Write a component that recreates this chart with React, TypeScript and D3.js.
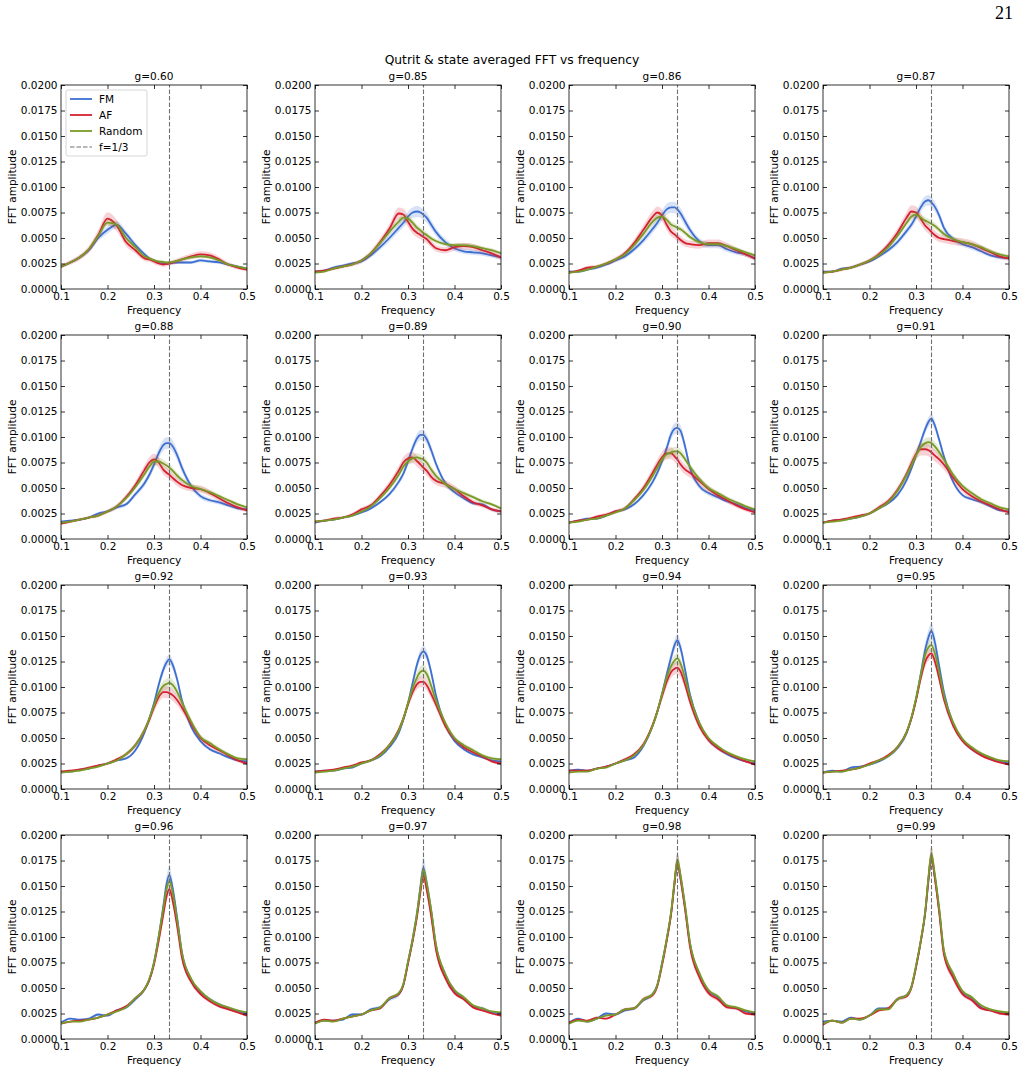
import React, { useEffect, useRef } from 'react';
import * as d3 from 'd3';

// frequency grid shared by every panel
const FREQS = [0.10, 0.12, 0.14, 0.16, 0.18, 0.20, 0.22, 0.24, 0.26, 0.28, 0.29, 0.30, 0.31, 0.32, 0.327, 0.333, 0.34, 0.35, 0.36, 0.38, 0.40, 0.42, 0.44, 0.46, 0.48, 0.50];

const G_LABELS = ['0.60', '0.85', '0.86', '0.87', '0.88', '0.89', '0.90', '0.91', '0.92', '0.93', '0.94', '0.95', '0.96', '0.97', '0.98', '0.99'];

// FFT amplitudes, in units of 1e-3
const FM = [
  [2.2, 2.6, 3.1, 3.8, 5.0, 5.8, 6.3, 5.4, 4.3, 3.4, 3.0, 2.8, 2.6, 2.5, 2.5, 2.5, 2.55, 2.6, 2.6, 2.6, 2.8, 2.7, 2.6, 2.4, 2.2, 2.0],
  [1.7, 1.8, 2.1, 2.3, 2.5, 2.7, 3.3, 4.1, 5.0, 6.0, 6.5, 7.1, 7.5, 7.6, 7.5, 7.3, 7.0, 6.3, 5.6, 4.6, 4.0, 3.7, 3.6, 3.5, 3.3, 3.1],
  [1.7, 1.7, 1.9, 2.1, 2.4, 2.8, 3.2, 3.9, 4.8, 5.9, 6.5, 7.2, 7.8, 8.0, 8.0, 7.8, 7.4, 6.6, 5.8, 4.7, 4.3, 4.3, 3.9, 3.6, 3.4, 3.0],
  [1.7, 1.7, 2.0, 2.1, 2.4, 2.7, 3.2, 3.8, 4.6, 5.7, 6.3, 7.1, 8.0, 8.6, 8.7, 8.5, 8.1, 7.2, 6.0, 4.9, 4.4, 4.1, 3.7, 3.3, 3.1, 3.0],
  [1.7, 1.8, 1.9, 2.1, 2.5, 2.7, 3.1, 3.4, 4.4, 5.5, 6.3, 7.3, 8.4, 9.2, 9.4, 9.4, 9.1, 8.2, 7.0, 5.2, 4.2, 3.8, 3.6, 3.3, 3.0, 2.9],
  [1.6, 1.8, 1.9, 2.1, 2.3, 2.6, 3.0, 3.6, 4.4, 5.6, 6.4, 7.6, 8.9, 9.9, 10.2, 10.2, 9.8, 8.7, 7.4, 5.5, 4.6, 4.0, 3.5, 3.4, 2.9, 2.7],
  [1.6, 1.8, 2.0, 2.0, 2.3, 2.7, 2.9, 3.4, 4.3, 5.6, 6.5, 7.6, 8.9, 10.3, 10.8, 10.9, 10.6, 9.0, 7.0, 5.2, 4.5, 4.1, 3.7, 3.4, 3.0, 2.8],
  [1.6, 1.8, 1.9, 2.0, 2.2, 2.5, 3.0, 3.5, 4.3, 5.8, 6.9, 8.2, 9.5, 10.8, 11.5, 11.8, 11.2, 9.7, 8.1, 5.6, 4.3, 3.9, 3.6, 3.2, 2.8, 2.7],
  [1.7, 1.7, 1.9, 2.0, 2.3, 2.5, 2.8, 3.0, 3.8, 5.6, 6.9, 8.4, 10.2, 11.7, 12.4, 12.7, 12.2, 10.7, 8.7, 6.1, 4.7, 3.9, 3.5, 3.1, 2.8, 2.7],
  [1.7, 1.8, 1.8, 2.0, 2.1, 2.5, 2.8, 3.2, 4.1, 5.5, 6.8, 8.4, 10.4, 12.3, 13.2, 13.5, 13.1, 11.4, 9.2, 6.3, 4.7, 3.9, 3.4, 3.1, 2.8, 2.7],
  [1.8, 1.9, 1.8, 2.0, 2.2, 2.5, 2.8, 3.1, 4.2, 6.2, 7.6, 9.3, 11.2, 13.0, 14.1, 14.6, 13.8, 11.6, 9.3, 6.5, 4.8, 4.0, 3.4, 3.0, 2.7, 2.5],
  [1.6, 1.8, 1.7, 2.1, 2.2, 2.4, 2.7, 3.2, 4.0, 5.5, 6.9, 8.8, 11.2, 13.7, 14.9, 15.5, 14.5, 12.0, 9.5, 6.4, 4.8, 3.9, 3.4, 3.0, 2.7, 2.5],
  [1.6, 2.0, 1.9, 2.0, 2.4, 2.3, 2.8, 3.1, 3.9, 4.9, 5.8, 7.5, 10.0, 13.0, 15.2, 16.1, 14.8, 11.8, 8.5, 5.8, 4.6, 3.9, 3.4, 3.0, 2.7, 2.5],
  [1.6, 1.8, 1.8, 1.9, 2.4, 2.4, 2.9, 3.1, 3.9, 4.4, 5.3, 7.5, 9.8, 12.5, 15.0, 16.8, 15.3, 12.5, 9.2, 6.3, 4.7, 4.0, 3.2, 3.0, 2.6, 2.5],
  [1.6, 2.0, 1.7, 2.0, 2.5, 2.4, 2.8, 3.0, 3.8, 4.4, 5.3, 7.4, 9.7, 12.5, 15.3, 17.3, 15.8, 12.8, 9.4, 6.4, 4.7, 4.1, 3.2, 3.0, 2.7, 2.5],
  [1.7, 1.8, 1.7, 2.1, 1.9, 2.3, 3.0, 3.0, 3.9, 4.3, 5.1, 7.1, 9.5, 12.4, 15.6, 17.8, 16.0, 12.6, 8.6, 6.3, 4.6, 4.0, 3.1, 2.8, 2.6, 2.5],
];

const AF = [
  [2.2, 2.6, 3.1, 3.9, 5.3, 6.9, 6.2, 4.6, 3.8, 3.0, 2.9, 2.7, 2.5, 2.4, 2.45, 2.5, 2.6, 2.75, 2.9, 3.2, 3.4, 3.3, 2.9, 2.4, 2.1, 1.9],
  [1.7, 1.8, 2.0, 2.2, 2.4, 2.8, 3.5, 4.6, 5.9, 7.4, 7.3, 6.6, 5.9, 5.5, 5.3, 5.1, 4.9, 4.4, 4.0, 3.8, 4.1, 4.2, 4.1, 3.8, 3.5, 3.1],
  [1.6, 1.8, 2.1, 2.2, 2.5, 2.9, 3.5, 4.5, 5.8, 7.1, 7.5, 7.2, 6.3, 5.6, 5.35, 5.1, 4.8, 4.5, 4.4, 4.3, 4.5, 4.5, 4.2, 3.8, 3.4, 3.0],
  [1.6, 1.7, 1.9, 2.1, 2.4, 2.8, 3.4, 4.3, 5.5, 7.0, 7.6, 7.5, 6.9, 6.2, 5.9, 5.6, 5.3, 5.0, 4.9, 4.7, 4.6, 4.4, 4.0, 3.6, 3.2, 3.0],
  [1.5, 1.7, 1.9, 2.1, 2.3, 2.7, 3.2, 4.1, 5.3, 6.8, 7.5, 7.8, 7.5, 6.8, 6.5, 6.3, 6.0, 5.6, 5.3, 5.0, 4.9, 4.5, 4.0, 3.5, 3.1, 2.8],
  [1.7, 1.8, 2.0, 2.1, 2.4, 2.9, 3.3, 4.2, 5.3, 6.7, 7.5, 7.9, 8.0, 7.6, 7.3, 7.0, 6.7, 6.1, 5.7, 5.4, 4.9, 4.2, 3.6, 3.3, 2.9, 2.7],
  [1.6, 1.8, 1.9, 2.2, 2.4, 2.7, 3.0, 3.9, 5.0, 6.5, 7.3, 8.0, 8.4, 8.4, 8.1, 7.8, 7.3, 6.8, 6.5, 5.7, 4.9, 4.3, 3.8, 3.3, 2.9, 2.6],
  [1.6, 1.8, 1.9, 2.1, 2.3, 2.5, 3.1, 3.7, 4.8, 6.4, 7.4, 8.3, 8.8, 8.8, 8.7, 8.5, 8.2, 7.8, 7.3, 6.0, 4.9, 4.2, 3.7, 3.3, 2.9, 2.6],
  [1.7, 1.8, 1.9, 2.1, 2.3, 2.5, 2.9, 3.4, 4.3, 5.8, 6.8, 8.0, 9.0, 9.5, 9.5, 9.4, 9.2, 8.7, 8.0, 6.4, 5.0, 4.3, 3.8, 3.3, 2.8, 2.5],
  [1.7, 1.8, 1.9, 2.1, 2.3, 2.6, 2.8, 3.4, 4.3, 5.8, 6.9, 8.3, 9.5, 10.3, 10.5, 10.5, 10.2, 9.3, 8.3, 6.2, 4.9, 4.1, 3.6, 3.2, 2.7, 2.5],
  [1.8, 1.8, 1.8, 2.0, 2.2, 2.5, 2.9, 3.4, 4.4, 6.3, 7.6, 9.1, 10.5, 11.5, 11.8, 11.9, 11.5, 10.2, 8.6, 6.2, 4.8, 4.0, 3.5, 3.1, 2.7, 2.4],
  [1.6, 1.7, 1.8, 1.9, 2.1, 2.5, 2.8, 3.3, 4.1, 5.6, 6.9, 8.7, 10.8, 12.5, 13.1, 13.3, 12.6, 10.8, 8.8, 6.2, 4.7, 3.9, 3.3, 2.9, 2.6, 2.4],
  [1.5, 1.7, 1.8, 1.9, 2.1, 2.4, 2.8, 3.2, 4.0, 4.9, 5.8, 7.3, 9.6, 12.2, 14.0, 14.7, 13.6, 11.0, 8.0, 5.6, 4.4, 3.7, 3.2, 2.9, 2.6, 2.3],
  [1.6, 1.9, 1.8, 2.0, 2.2, 2.4, 2.8, 3.0, 4.0, 4.4, 5.3, 7.4, 9.6, 12.2, 14.5, 16.1, 14.7, 12.0, 8.8, 6.0, 4.5, 3.9, 3.1, 2.8, 2.5, 2.3],
  [1.6, 1.9, 1.8, 2.1, 2.0, 2.4, 2.9, 3.0, 3.9, 4.3, 5.2, 7.2, 9.6, 12.4, 15.3, 17.4, 15.7, 12.6, 9.1, 6.1, 4.5, 3.9, 3.1, 3.0, 2.5, 2.4],
  [1.4, 1.8, 1.6, 2.0, 2.0, 2.3, 2.8, 3.0, 3.9, 4.2, 5.0, 7.0, 9.5, 12.5, 15.8, 18.0, 16.0, 12.4, 8.3, 6.0, 4.4, 3.8, 3.0, 2.8, 2.5, 2.4],
];

const RANDOM = [
  [2.2, 2.6, 3.1, 3.9, 5.2, 6.5, 6.3, 5.0, 4.1, 3.2, 3.0, 2.8, 2.7, 2.65, 2.6, 2.6, 2.65, 2.75, 2.9, 3.1, 3.2, 3.1, 2.8, 2.4, 2.2, 2.0],
  [1.6, 1.7, 2.0, 2.2, 2.4, 2.8, 3.5, 4.5, 5.6, 6.6, 7.0, 6.9, 6.5, 6.0, 5.75, 5.5, 5.3, 4.95, 4.7, 4.4, 4.3, 4.3, 4.2, 4.0, 3.8, 3.5],
  [1.6, 1.7, 1.9, 2.2, 2.5, 2.9, 3.4, 4.3, 5.4, 6.6, 7.0, 7.1, 6.8, 6.3, 6.15, 6.0, 5.85, 5.5, 5.1, 4.6, 4.4, 4.4, 4.2, 3.9, 3.6, 3.3],
  [1.6, 1.7, 1.9, 2.1, 2.4, 2.8, 3.3, 4.1, 5.2, 6.5, 7.1, 7.3, 7.0, 6.7, 6.55, 6.4, 6.2, 5.8, 5.4, 4.9, 4.6, 4.4, 4.1, 3.7, 3.4, 3.2],
  [1.6, 1.7, 1.9, 2.1, 2.3, 2.7, 3.2, 4.0, 5.1, 6.4, 7.1, 7.6, 7.6, 7.4, 7.2, 7.0, 6.7, 6.2, 5.8, 5.2, 4.9, 4.6, 4.2, 3.8, 3.4, 3.1],
  [1.7, 1.8, 1.9, 2.1, 2.3, 2.7, 3.2, 4.0, 5.0, 6.3, 7.1, 7.6, 7.9, 8.0, 7.9, 7.8, 7.5, 6.8, 6.2, 5.4, 4.9, 4.5, 4.1, 3.7, 3.4, 3.0],
  [1.6, 1.7, 1.9, 2.0, 2.3, 2.6, 3.0, 3.8, 4.8, 6.2, 7.0, 7.8, 8.3, 8.5, 8.6, 8.6, 8.4, 7.8, 7.1, 5.9, 5.0, 4.5, 4.0, 3.6, 3.2, 2.9],
  [1.6, 1.7, 1.8, 2.0, 2.2, 2.5, 3.0, 3.6, 4.7, 6.3, 7.2, 8.2, 9.0, 9.4, 9.5, 9.4, 9.1, 8.5, 7.8, 6.3, 5.2, 4.5, 3.9, 3.5, 3.1, 2.9],
  [1.6, 1.7, 1.8, 2.0, 2.2, 2.5, 2.8, 3.4, 4.3, 5.8, 6.9, 8.2, 9.4, 10.1, 10.3, 10.4, 10.2, 9.5, 8.5, 6.6, 5.1, 4.5, 3.9, 3.4, 3.0, 2.9],
  [1.6, 1.7, 1.8, 2.0, 2.2, 2.5, 2.8, 3.3, 4.3, 5.7, 6.9, 8.4, 9.9, 11.0, 11.5, 11.6, 11.3, 10.1, 8.7, 6.5, 5.0, 4.3, 3.8, 3.3, 3.0, 2.9],
  [1.6, 1.7, 1.7, 2.0, 2.1, 2.5, 2.8, 3.3, 4.3, 6.2, 7.6, 9.3, 10.9, 12.1, 12.6, 12.8, 12.3, 10.8, 9.1, 6.5, 5.0, 4.2, 3.6, 3.2, 2.9, 2.7],
  [1.6, 1.7, 1.7, 1.9, 2.1, 2.4, 2.8, 3.2, 4.1, 5.6, 7.0, 8.9, 11.1, 13.2, 13.9, 14.1, 13.4, 11.4, 9.2, 6.5, 4.9, 4.1, 3.5, 3.1, 2.8, 2.7],
  [1.5, 1.7, 1.7, 1.9, 2.1, 2.4, 2.7, 3.1, 4.0, 4.9, 5.9, 7.5, 10.0, 12.8, 14.7, 15.5, 14.4, 11.6, 8.5, 5.9, 4.7, 3.9, 3.4, 3.1, 2.8, 2.6],
  [1.5, 1.8, 1.7, 2.0, 2.2, 2.4, 2.8, 3.1, 4.0, 4.5, 5.4, 7.6, 9.8, 12.5, 14.9, 16.6, 15.3, 12.6, 9.3, 6.4, 4.8, 4.1, 3.3, 3.0, 2.7, 2.6],
  [1.5, 1.8, 1.7, 2.0, 2.3, 2.4, 2.9, 3.0, 3.9, 4.4, 5.3, 7.4, 9.8, 12.6, 15.5, 17.6, 16.0, 13.0, 9.5, 6.5, 4.8, 4.2, 3.3, 3.1, 2.8, 2.6],
  [1.5, 1.8, 1.6, 2.0, 1.9, 2.3, 2.9, 2.9, 3.9, 4.3, 5.1, 7.2, 9.6, 12.6, 16.0, 18.2, 16.3, 12.8, 8.7, 6.4, 4.7, 4.1, 3.3, 2.9, 2.7, 2.6],
];

// relative half-width of the shaded band, per panel
const SPREAD_FM = [0.06, 0.07, 0.07, 0.06, 0.06, 0.05, 0.05, 0.04, 0.04, 0.04, 0.04, 0.05, 0.05, 0.06, 0.05, 0.04];
const SPREAD_AF = [0.09, 0.08, 0.08, 0.08, 0.07, 0.07, 0.07, 0.07, 0.06, 0.05, 0.05, 0.04, 0.04, 0.04, 0.05, 0.05];
const SPREAD_RANDOM = [0.05, 0.05, 0.05, 0.05, 0.05, 0.05, 0.05, 0.05, 0.05, 0.05, 0.04, 0.04, 0.03, 0.03, 0.04, 0.04];

const X_TICKS = [0.1, 0.2, 0.3, 0.4, 0.5];
const Y_TICKS = [0, 0.0025, 0.005, 0.0075, 0.01, 0.0125, 0.015, 0.0175, 0.02];

const SERIES = [
  { name: 'FM', color: '#3d6fd2', values: FM, spread: SPREAD_FM },
  { name: 'AF', color: '#d62030', values: AF, spread: SPREAD_AF },
  { name: 'Random', color: '#7a9a28', values: RANDOM, spread: SPREAD_RANDOM },
];

const UNIT = 1e-3;
const W = 1025;
const H = 1072;
const PW = 186;
const PH = 204;
const FONT = 'DejaVu Sans, sans-serif';
const DASH = '4.5,2';

const App = () => {
  const ref = useRef(null);

  useEffect(() => {
    const svg = d3.select(ref.current);
    svg.selectAll('*').remove();

    const col = d3.scaleLinear().domain([0, 3]).range([61, 823]);
    const row = d3.scaleLinear().domain([0, 3]).range([85, 835]);
    const x = d3.scaleLinear().domain([0.1, 0.5]).range([0, PW]);
    const y = d3.scaleLinear().domain([0, 0.02]).range([PH, 0]);

    svg.append('text')
      .attr('x', 1013).attr('y', 19)
      .attr('text-anchor', 'end')
      .attr('font-family', 'Liberation Serif, DejaVu Serif, serif')
      .attr('font-size', 18)
      .text('21');

    svg.append('text')
      .attr('x', 512).attr('y', 64)
      .attr('text-anchor', 'middle')
      .attr('font-family', FONT)
      .attr('font-size', 12.3)
      .text('Qutrit & state averaged FFT vs frequency');

    G_LABELS.forEach((g, i) => {
      const p = svg.append('g')
        .attr('transform', `translate(${col(i % 4)},${row(Math.floor(i / 4))})`);

      p.append('clipPath').attr('id', `clip${i}`)
        .append('rect').attr('width', PW).attr('height', PH);
      const plot = p.append('g').attr('clip-path', `url(#clip${i})`);

      SERIES.forEach((s) => {
        const pts = FREQS.map((f, k) => ({ f, v: s.values[i][k] * UNIT }));
        const sp = s.spread[i];
        const area = d3.area()
          .x((d) => x(d.f))
          .y0((d) => y(d.v * (1 - sp)))
          .y1((d) => y(d.v * (1 + sp)))
          .curve(d3.curveMonotoneX);
        const line = d3.line()
          .x((d) => x(d.f))
          .y((d) => y(d.v))
          .curve(d3.curveMonotoneX);
        plot.append('path').attr('d', area(pts))
          .attr('fill', s.color).attr('fill-opacity', 0.2).attr('stroke', 'none');
        plot.append('path').attr('d', line(pts))
          .attr('fill', 'none').attr('stroke', s.color).attr('stroke-width', 1.8);
      });

      plot.append('line')
        .attr('x1', x(1 / 3)).attr('x2', x(1 / 3))
        .attr('y1', y(0)).attr('y2', y(0.02))
        .attr('stroke', '#707070').attr('stroke-width', 1.1)
        .attr('stroke-dasharray', DASH);

      const styleAxis = (a) => {
        a.select('.domain').remove();
        a.selectAll('line').attr('stroke', '#000').attr('stroke-width', 0.8);
        a.selectAll('text').attr('font-family', FONT).attr('font-size', 10.5).attr('fill', '#000');
      };

      p.append('g').attr('transform', `translate(0,${PH})`)
        .call(d3.axisBottom(x).tickValues(X_TICKS).tickFormat(d3.format('.1f')).tickSize(-4).tickPadding(3.5))
        .call(styleAxis);
      p.append('g')
        .call(d3.axisTop(x).tickValues(X_TICKS).tickFormat(() => '').tickSize(-4))
        .call(styleAxis);
      p.append('g')
        .call(d3.axisLeft(y).tickValues(Y_TICKS).tickFormat(d3.format('.4f')).tickSize(-4).tickPadding(3.5))
        .call(styleAxis);
      p.append('g').attr('transform', `translate(${PW},0)`)
        .call(d3.axisRight(y).tickValues(Y_TICKS).tickFormat(() => '').tickSize(-4))
        .call(styleAxis);

      p.append('rect').attr('width', PW).attr('height', PH)
        .attr('fill', 'none').attr('stroke', '#000').attr('stroke-width', 0.8);

      p.append('text')
        .attr('x', PW / 2).attr('y', -5)
        .attr('text-anchor', 'middle')
        .attr('font-family', FONT).attr('font-size', 10.5)
        .text(`g=${g}`);
      p.append('text')
        .attr('x', PW / 2).attr('y', PH + 25)
        .attr('text-anchor', 'middle')
        .attr('font-family', FONT).attr('font-size', 10.5)
        .text('Frequency');
      p.append('text')
        .attr('transform', `translate(-45,${PH / 2}) rotate(-90)`)
        .attr('text-anchor', 'middle')
        .attr('font-family', FONT).attr('font-size', 10.5)
        .text('FFT amplitude');

      if (i === 0) {
        const lg = p.append('g').attr('transform', 'translate(5,5)');
        lg.append('rect').attr('width', 81).attr('height', 66).attr('rx', 2)
          .attr('fill', '#fff').attr('fill-opacity', 0.8)
          .attr('stroke', '#ccc').attr('stroke-width', 0.8);
        const items = [
          ...SERIES.map((s) => ({ label: s.name, color: s.color, dash: null })),
          { label: 'f=1/3', color: '#707070', dash: DASH },
        ];
        items.forEach((it, k) => {
          const yy = 9 + k * 16;
          lg.append('line')
            .attr('x1', 4).attr('x2', 26).attr('y1', yy).attr('y2', yy)
            .attr('stroke', it.color)
            .attr('stroke-width', it.dash ? 1.1 : 1.8)
            .attr('stroke-dasharray', it.dash);
          lg.append('text')
            .attr('x', 33).attr('y', yy + 4)
            .attr('font-family', FONT).attr('font-size', 10.5)
            .text(it.label);
        });
      }
    });
  }, []);

  return (
    <svg
      ref={ref}
      width={W}
      height={H}
      style={{ position: 'absolute', left: 0, top: 0, background: '#fff' }}
    />
  );
};

export default App;
